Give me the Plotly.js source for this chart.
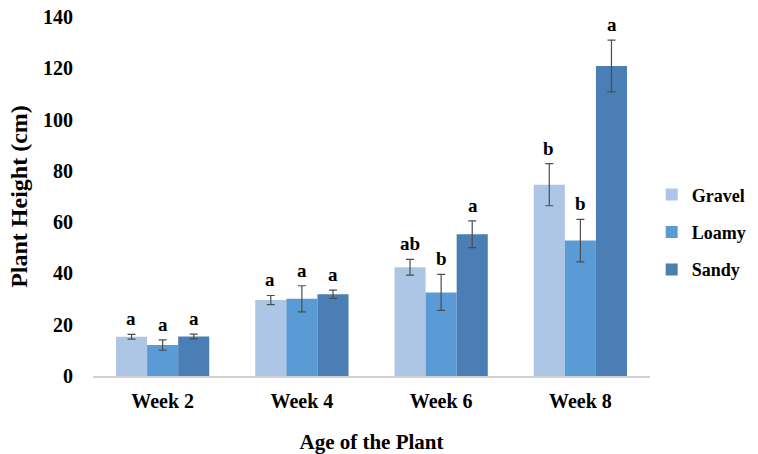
<!DOCTYPE html>
<html>
<head>
<meta charset="utf-8">
<script src="https://cdn.plot.ly/plotly-3.0.1.min.js"></script>
<style>html,body{margin:0;padding:0;background:#fff;}#chart{width:758px;height:454px;}</style>
</head>
<body>
<div id="chart"></div>
<script>
const weeks = ["Week 2", "Week 4", "Week 6", "Week 8"];
const seriesNames = ["Gravel", "Loamy", "Sandy"];
const gravel = [15.3, 29.6, 42.4, 74.6];
const loamy = [12.1, 30.1, 32.6, 52.8];
const sandy = [15.4, 31.9, 55.3, 120.9];
const gravelErr = [0.9, 1.8, 3.1, 8.2];
const loamyErr = [2.0, 5.1, 7.0, 8.3];
const sandyErr = [0.9, 1.6, 5.2, 10.1];
const gravelLetters = ["a", "a", "ab", "b"];
const loamyLetters = ["a", "a", "b", "b"];
const sandyLetters = ["a", "a", "a", "a"];

const colors = ["#adc6e6", "#5b9bd5", "#4a7eb5"];
const values = [gravel, loamy, sandy];
const errs = [gravelErr, loamyErr, sandyErr];
const letters = [gravelLetters, loamyLetters, sandyLetters];
const serif = "Liberation Serif, Times New Roman, serif";

const traces = seriesNames.map((name, i) => ({
  type: "bar",
  name: name,
  x: weeks,
  y: values[i],
  marker: {color: colors[i]},
  legendgroup: name,
  error_y: {type: "data", array: errs[i], visible: true, color: "#4d4d4d", thickness: 1.2, width: 4}
}));

const shifts = [-31.5, 0, 31.5];
const annotations = [];
seriesNames.forEach((name, i) => {
  weeks.forEach((w, j) => {
    annotations.push({
      x: w, y: values[i][j] + errs[i][j], xref: "x", yref: "y",
      text: "<b>" + letters[i][j] + "</b>", showarrow: false, xshift: shifts[i], yshift: 3,
      yanchor: "bottom", font: {family: serif, size: 19, color: "#000", weight: "bold"}
    });
  });
});

const layout = {
  width: 758, height: 454,
  margin: {l: 93, r: 108, t: 17, b: 78, autoexpand: false},
  paper_bgcolor: "#fff", plot_bgcolor: "#fff",
  barmode: "group", bargap: 0.33, bargroupgap: 0,
  showlegend: true,
  legend: {x: 1.003, xanchor: "left", y: 0.40, yanchor: "middle",
           font: {family: serif, size: 18, color: "#000", weight: "bold"},
           traceorder: "grouped", tracegroupgap: 11, itemwidth: 30},
  xaxis: {
    type: "category", showline: true, linecolor: "#d0d0d0", linewidth: 1.5,
    ticks: "", showgrid: false, ticklabelstandoff: 6,
    tickfont: {family: serif, size: 20, color: "#000", weight: "bold"},
    title: {text: "Age of the Plant", font: {family: serif, size: 21, color: "#000", weight: "bold"}, standoff: 24}
  },
  yaxis: {
    range: [0, 140], dtick: 20, showgrid: false, zeroline: false, showline: false, ticks: "",
    tickfont: {family: serif, size: 20, color: "#000", weight: "bold"},
    ticklabelstandoff: 19,
    title: {text: "Plant Height (cm)", font: {family: serif, size: 24, color: "#000", weight: "bold"}, standoff: 8}
  },
  annotations: annotations
};

Plotly.newPlot("chart", traces, layout, {displayModeBar: false, staticPlot: true});
</script>
</body>
</html>
